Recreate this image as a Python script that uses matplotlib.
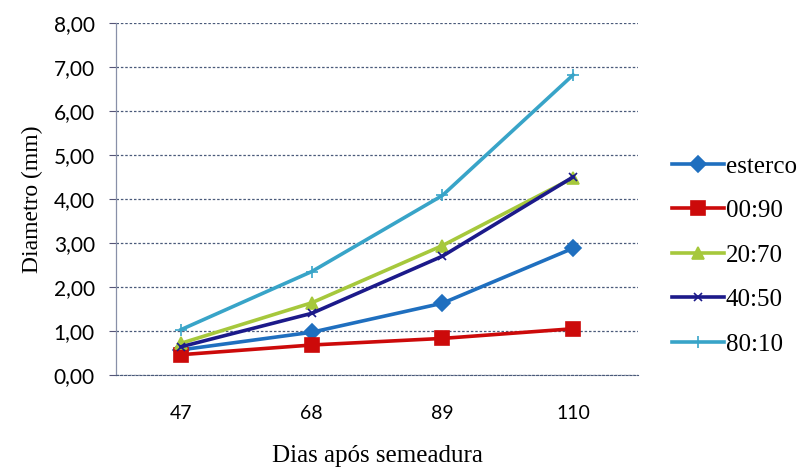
import matplotlib.pyplot as plt
from matplotlib.font_manager import FontProperties
import numpy as np

dias = ["47", "68", "89", "110"]
esterco = [0.57, 0.97, 1.63, 2.88]
t_00_90 = [0.46, 0.68, 0.83, 1.05]
t_20_70 = [0.72, 1.64, 2.94, 4.48]
t_40_50 = [0.64, 1.40, 2.70, 4.50]
t_80_10 = [1.03, 2.35, 4.08, 6.82]

series = [
    ("esterco", esterco, "#1f6fbf", "D", 8),
    ("00:90", t_00_90, "#cc0a0a", "s", 10),
    ("20:70", t_20_70, "#a6c83c", "^", 9),
    ("40:50", t_40_50, "#1c1a8a", "x", 6),
    ("80:10", t_80_10, "#38a4c8", "+", 8),
]

fig = plt.figure(figsize=(7.98, 4.71), dpi=100)
ax = fig.add_axes([0.145, 0.204, 0.655, 0.747])

x = np.arange(len(dias))
for nome, vals, cor, mk, ms in series:
    ax.plot(x, vals, color=cor, lw=2.6, marker=mk, markersize=ms,
            markeredgewidth=1.2, label=nome, zorder=3)

ax.set_xlim(-0.5, 3.5)
ax.set_ylim(0, 8)
ax.set_yticks(np.arange(0, 9, 1))
ax.set_yticklabels([f"{v:.2f}".replace(".", ",") for v in range(9)],
                   fontfamily="Lato", fontsize=15)
ax.set_xticks(x)
ax.set_xticklabels(dias, fontfamily="Lato", fontsize=14)
ax.tick_params(axis="x", length=0, pad=22)
ax.tick_params(axis="y", length=5, width=0.8, color="#555577", pad=10)

ax.grid(axis="y", color="#4a5a7a", linestyle=(0, (2, 1.5)), lw=0.9)
for s in ["top", "right"]:
    ax.spines[s].set_visible(False)
ax.spines["bottom"].set_linestyle((0, (2, 1.5)))
ax.spines["bottom"].set_color("#4a5a7a")
ax.spines["left"].set_color("#8890a8")
ax.spines["left"].set_linewidth(0.9)

serif = FontProperties(family="Liberation Serif", size=18)
ax.set_xlabel("Dias após semeadura", fontfamily="Liberation Serif",
              fontsize=18, labelpad=16)
ax.set_ylabel("Diametro (mm)", fontfamily="Liberation Serif", fontsize=17,
              labelpad=8)

ax.legend(loc="center left", bbox_to_anchor=(1.045, 0.34), frameon=False,
          prop=serif, handlelength=2.1, handletextpad=0.05,
          labelspacing=0.88, borderaxespad=0)

fig.savefig("out.png", dpi=100)
